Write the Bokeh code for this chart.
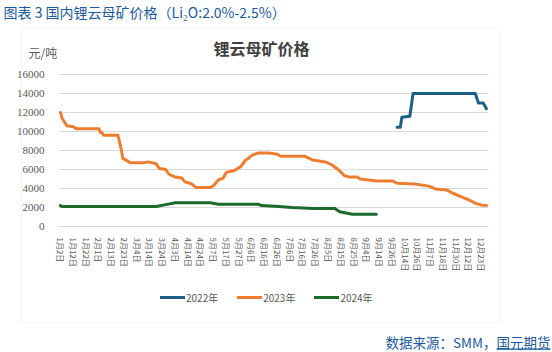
from bokeh.plotting import figure
from bokeh.models import FixedTicker, Label, Legend, LegendItem, BoxAnnotation, Range1d
from bokeh.embed import file_html
from bokeh.resources import INLINE

# ---------------- data ----------------
tick_labels = ["1月2日", "1月12日", "1月22日", "2月1日", "2月13日", "2月23日", "3月4日",
               "3月14日", "3月24日", "4月3日", "4月14日", "4月24日", "5月7日", "5月17日",
               "5月27日", "6月6日", "6月16日", "6月26日", "7月6日", "7月16日", "7月26日",
               "8月5日", "8月15日", "8月25日", "9月4日", "9月14日", "9月26日", "10月14日",
               "10月26日", "11月7日", "11月18日", "11月30日", "12月12日", "12月23日"]
label_step = 8  # trading days between labelled dates

idx_2022 = [211, 213, 214, 219, 221, 260, 262, 265, 267]
val_2022 = [10450, 10450, 11500, 11600, 14000, 14000, 13000, 13000, 12400]

idx_2023 = [0, 1, 4, 8, 10, 24, 25, 26, 27, 36, 38, 39, 44, 52, 55, 60, 62, 66, 68, 72,
            76, 78, 82, 85, 94, 96, 99, 102, 104, 109, 113, 116, 118, 120, 124, 130, 136,
            138, 153, 158, 166, 170, 174, 178, 181, 186, 188, 198, 208, 211, 222, 231, 235,
            242, 246, 251, 256, 260, 264, 267]
val_2023 = [12000, 11400, 10600, 10500, 10300, 10300, 9900, 9900, 9600, 9600, 8200, 7200,
            6700, 6700, 6800, 6600, 6100, 6000, 5500, 5200, 5100, 4700, 4500, 4100, 4100,
            4300, 4900, 5100, 5700, 5900, 6300, 7000, 7200, 7500, 7750, 7750, 7600, 7400,
            7400, 7000, 6800, 6500, 6000, 5350, 5200, 5200, 5000, 4800, 4800, 4550, 4470,
            4250, 3950, 3850, 3500, 3150, 2800, 2450, 2250, 2200]

idx_2024 = [0, 1, 60, 66, 72, 76, 94, 99, 124, 126, 137, 145, 159, 172, 175, 183, 198]
val_2024 = [2200, 2100, 2100, 2300, 2500, 2500, 2500, 2350, 2350, 2200, 2100, 2000, 1900,
            1900, 1550, 1280, 1280]

series_names = ["2022年", "2023年", "2024年"]
series_colors = ["#1b5e87", "#ed7d31", "#1d6b2c"]
y_ticks = [0, 2000, 4000, 6000, 8000, 10000, 12000, 14000, 16000]
y_min, y_max = 0, 16000
x_min, x_max = -1.25, 268.3

CJK = "Noto Sans CJK SC"
GREY = "#595959"
BLUE_TXT = "#1c5a9c"
GRID = "#d9d9d9"

# ---------------- layout (page pixels) ----------------
W, H = 552, 352
PL, PR, PT, PB = 58, 488, 74, 226   # plotting area edges

xs_per_px = (x_max - x_min) / (PR - PL)
ys_per_px = (y_max - y_min) / (PB - PT)
x_range = Range1d(x_min - PL * xs_per_px, x_max + (W - PR) * xs_per_px)
y_range = Range1d(y_min - (H - PB) * ys_per_px, y_max + PT * ys_per_px)

p = figure(width=W, height=H, output_backend="svg", toolbar_location=None,
           x_range=x_range, y_range=y_range,
           min_border_left=0, min_border_right=0, min_border_top=0, min_border_bottom=0)
p.outline_line_color = None
p.background_fill_color = "white"
p.border_fill_color = "white"
p.xgrid.visible = False
p.ygrid.visible = False

# horizontal gridlines across the plotting area only
p.segment(x0=[x_min] * len(y_ticks), y0=y_ticks, x1=[x_max] * len(y_ticks), y1=y_ticks,
          line_color=GRID, line_width=1)

p.yaxis.fixed_location = x_min
p.yaxis.bounds = (y_min, y_max)
p.yaxis.ticker = FixedTicker(ticks=y_ticks)
p.yaxis.axis_line_color = None
p.yaxis.major_tick_line_color = None
p.yaxis.minor_tick_line_color = None
p.yaxis.major_label_text_font = "Liberation Serif"
p.yaxis.major_label_text_font_size = "11px"
p.yaxis.major_label_text_color = GREY
p.yaxis.major_label_standoff = 8

xt = [i * label_step for i in range(len(tick_labels))]
p.xaxis.fixed_location = y_min
p.xaxis.bounds = (x_min, x_max)
p.xaxis.ticker = FixedTicker(ticks=xt)
p.xaxis.major_label_overrides = {t: lab for t, lab in zip(xt, tick_labels)}
p.xaxis.major_label_orientation = "vertical"
p.xaxis.axis_line_color = GRID
p.xaxis.major_tick_line_color = None
p.xaxis.minor_tick_line_color = None
p.xaxis.major_label_text_font = CJK
p.xaxis.major_label_text_font_size = "8px"
p.xaxis.major_label_text_color = GREY
p.xaxis.major_label_standoff = 5

renderers = []
for xs, ys, c in [(idx_2022, val_2022, series_colors[0]),
                  (idx_2023, val_2023, series_colors[1]),
                  (idx_2024, val_2024, series_colors[2])]:
    r = p.line(xs, ys, line_color=c, line_width=3, line_join="round", line_cap="round")
    renderers.append(r)

legend = Legend(items=[LegendItem(label=n, renderers=[r]) for n, r in zip(series_names, renderers)],
                orientation="horizontal", location=(160, H - 307),
                border_line_color=None, background_fill_alpha=0,
                padding=0, margin=0, spacing=19, glyph_width=25, glyph_height=20,
                label_standoff=1, label_text_font=CJK, label_text_font_size="10px",
                label_text_color=GREY)
p.add_layout(legend, "center")


def sbox(left, right, top, bottom, **kw):
    p.add_layout(BoxAnnotation(left=left, right=right, top=H - top, bottom=H - bottom,
                               left_units="screen", right_units="screen",
                               top_units="screen", bottom_units="screen", **kw))


# outer chart frame
sbox(21, 500, 28, 322, fill_alpha=0, line_color=GRID, line_width=1)


def lab(cx, cy, text, size, color, align="left", style="normal"):
    p.add_layout(Label(x=cx, y=H - cy, x_units="screen", y_units="screen",
                       text=text, text_font=CJK, text_font_size=size, text_color=color,
                       text_align=align, text_baseline="middle", text_font_style=style))


lab(3, 11, "图表 3 国内锂云母矿价格（Li₂O:2.0%-2.5%）", "14px", BLUE_TXT)
lab(261, 47, "锂云母矿价格", "16px", "#404040", align="center", style="bold")
lab(28, 52, "元/吨", "12px", GREY)
lab(550, 341, "数据来源：SMM，国元期货", "13.5px", BLUE_TXT, align="right")
sbox(496, 550, 348, 349.2, fill_color=BLUE_TXT, fill_alpha=1, line_color=None)

open("out.html", "w").write(file_html(p, INLINE))
